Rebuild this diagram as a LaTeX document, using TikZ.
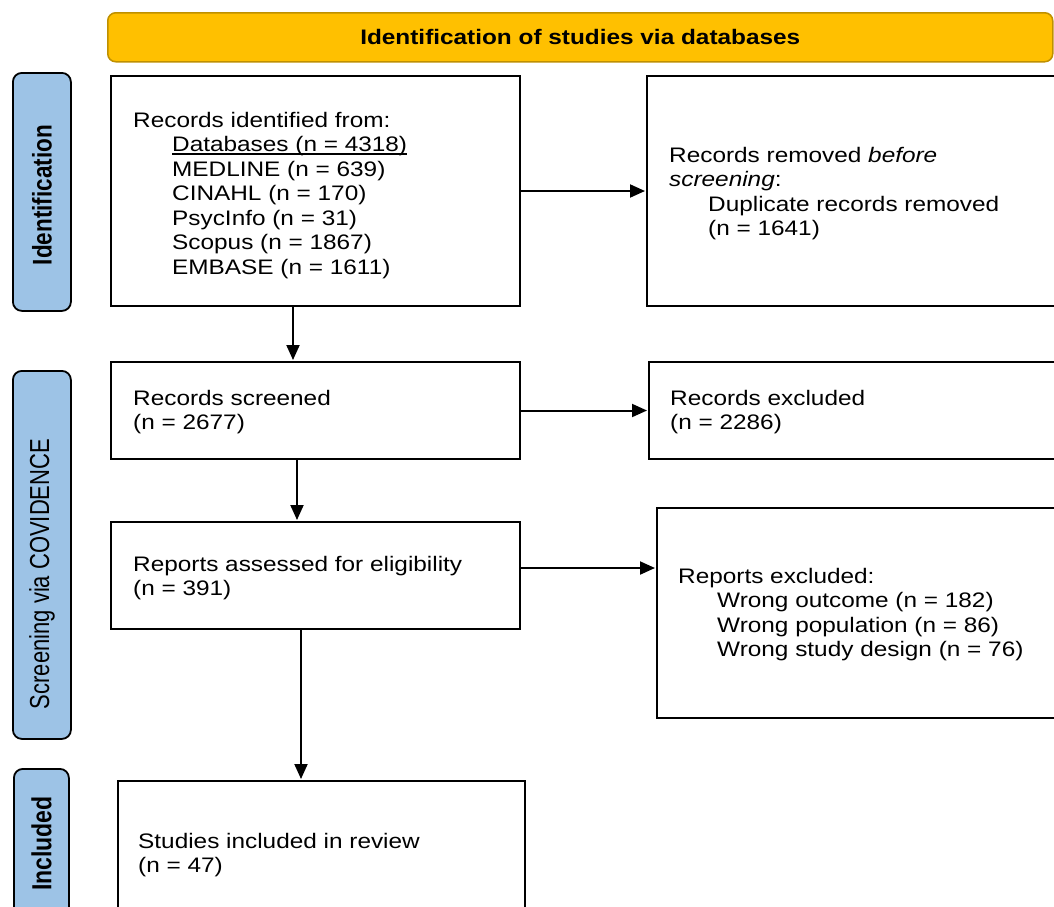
\documentclass[tikz,border=0pt]{standalone}
\usepackage{fontspec}
\setmainfont{Liberation Sans}[FakeStretch=1.16]
\newfontfamily\sidefont{Liberation Sans}
\usetikzlibrary{arrows.meta,calc}
\definecolor{bannerfill}{HTML}{FFC000}
\definecolor{bannerline}{HTML}{BF9000}
\definecolor{sidefill}{HTML}{9DC3E6}
\newlength\ulwidth
\newcommand{\myul}[1]{\settowidth{\ulwidth}{#1}\rlap{\rule[-3pt]{\ulwidth}{1.3pt}}#1}
\begin{document}
\begin{tikzpicture}[x=1pt,y=-1pt,
  box/.style={draw=black, line width=2pt, fill=white, inner sep=0pt, anchor=north west},
  txt/.style={anchor=north west, inner sep=0pt, align=left, font=\fontsize{21}{24.5}\selectfont},
  arr/.style={line width=2pt, shorten >=1pt, -{Triangle[length=15pt,width=13pt]}},
  sidebox/.style={draw=black, line width=1.8pt, fill=sidefill, rounded corners=9pt, inner sep=0pt, anchor=north west},
  sidetxt/.style={rotate=90, inner sep=0pt},
  banner/.style={draw=bannerline, line width=1.5pt, fill=bannerfill, rounded corners=8pt, inner sep=0pt, anchor=north west,
     font=\bfseries\fontsize{21}{24}\selectfont}
]
\useasboundingbox (0,0) rectangle (1054,906);
\clip (0,0) rectangle (1054,906);
\fill[white] (0,0) rectangle (1054,906);

% banner
\node[banner, minimum width=945pt, minimum height=49pt] (ban) at (107,12) {Identification of studies via databases};

% side labels
\node[sidebox, minimum width=58pt, minimum height=238pt] (sid) at (12,72) {};
\node[sidetxt, font=\sidefont\bfseries\fontsize{22.5}{26}\selectfont] (sidt) at (42,195) {\scalebox{1}[1.2]{Identification}};
\node[sidebox, minimum width=58pt, minimum height=368pt] (sscr) at (12,370) {};
\node[sidetxt, font=\sidefont\fontsize{22}{26}\selectfont] (sscrt) at (42,574) {\scalebox{1}[1.25]{Screening via COVIDENCE}};
\node[sidebox, minimum width=55pt, minimum height=160pt] (sinc) at (13,768) {};
\node[sidetxt, font=\sidefont\bfseries\fontsize{23}{26}\selectfont] (sinct) at (41.5,843.5) {\scalebox{1}[1.2]{Included}};

% boxes
\node[box, minimum width=409pt, minimum height=230pt] (b1) at (110,75) {};
\node[box, minimum width=430pt, minimum height=230pt] (b2) at (646,75) {};
\node[box, minimum width=409pt, minimum height=97pt] (b3) at (110,361) {};
\node[box, minimum width=430pt, minimum height=97pt] (b4) at (648,361) {};
\node[box, minimum width=409pt, minimum height=107pt] (b5) at (110,521) {};
\node[box, minimum width=430pt, minimum height=210pt] (b6) at (656,507) {};
\node[box, minimum width=407pt, minimum height=160pt] (b7) at (117,780) {};

% texts
\node[txt] (t1) at (133,110) {\rule{0pt}{17pt}Records identified from:\\
  \hspace*{39pt}\myul{Databases (n = 4318)}\\
  \hspace*{39pt}MEDLINE (n = 639)\\
  \hspace*{39pt}CINAHL (n = 170)\\
  \hspace*{39pt}PsycInfo (n = 31)\\
  \hspace*{39pt}Scopus (n = 1867)\\
  \hspace*{39pt}EMBASE (n = 1611)};
\node[txt] (t2) at (669,145) {\rule{0pt}{17pt}Records removed \textit{before}\\
  \textit{screening}:\\
  \hspace*{39pt}Duplicate records removed\\
  \hspace*{39pt}(n = 1641)};
\node[txt] (t3) at (133,388) {\rule{0pt}{17pt}Records screened\\(n = 2677)};
\node[txt] (t4) at (670,388) {\rule{0pt}{17pt}Records excluded\\(n = 2286)};
\node[txt] (t5) at (133,554) {\rule{0pt}{17pt}Reports assessed for eligibility\\(n = 391)};
\node[txt] (t6) at (678,566) {\rule{0pt}{17pt}Reports excluded:\\
  \hspace*{39pt}Wrong outcome (n = 182)\\
  \hspace*{39pt}Wrong population (n = 86)\\
  \hspace*{39pt}Wrong study design (n = 76)};
\node[txt] (t7) at (138,831) {\rule{0pt}{17pt}Studies included in review\\(n = 47)};

% connectors
\coordinate (a5) at ($(b5.east)+(0,-7.5)$);
\draw[arr] (b1.east) -- (b1.east -| b2.west);
\draw[arr] (b3.east) -- (b3.east -| b4.west);
\draw[arr] (a5) -- (a5 -| b6.west);
\draw[arr] (b1.south -| 293,0) -- (b3.north -| 293,0);
\draw[arr] (b3.south -| 297,0) -- (b5.north -| 297,0);
\draw[arr] (b5.south -| 301,0) -- (b7.north -| 301,0);
\end{tikzpicture}
\end{document}
